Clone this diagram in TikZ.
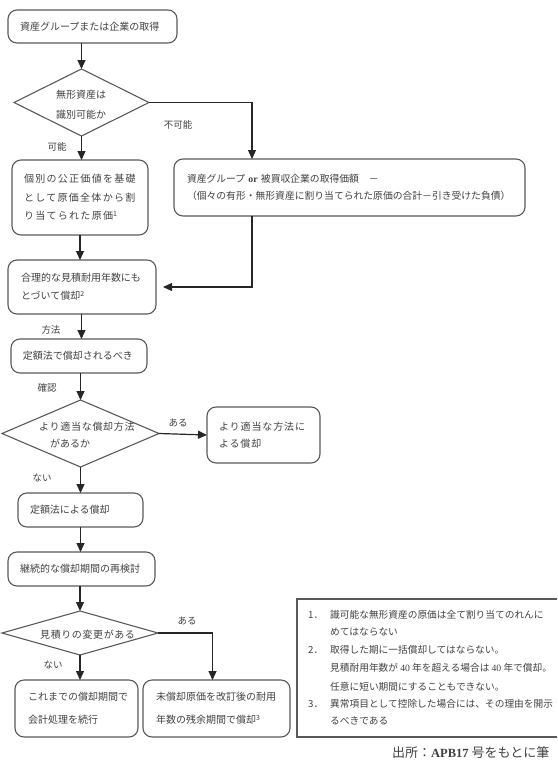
\documentclass[tikz,border=0pt]{standalone}
\usepackage{fontspec}
\setmainfont{Noto Sans CJK JP}
\newfontfamily\lat{Liberation Serif}
\usetikzlibrary{shapes.geometric,arrows.meta,calc}
\begin{document}
\begin{tikzpicture}[x=1pt,y=-1pt,
  box/.style={draw=black!65, line width=1.1pt, rounded corners=9pt, align=left,
    font=\fontsize{10}{18}\selectfont, text=black!75, inner ysep=0pt, outer sep=0pt},
  dia/.style={draw=black!65, line width=1.1pt, diamond, inner sep=0pt, outer sep=0pt},
  txt/.style={font=\fontsize{10}{18}\selectfont, text=black!75, inner sep=0pt, align=left, anchor=west},
  ntxt/.style={font=\fontsize{9.7}{12}\selectfont, text=black!75, inner sep=0pt, anchor=west},
  lbl/.style={font=\fontsize{9.5}{12}\selectfont, text=black!75, inner sep=0pt},
  arr/.style={draw=black!85, line width=1.2pt, -{Triangle[length=9pt,width=8pt]}},
]
\useasboundingbox (0,0) rectangle (557,763);
\clip (0,0) rectangle (557,763);

% boxes
\node[box, minimum width=169pt, minimum height=33pt, inner xsep=12pt, text width=145pt] (B1) at (92.5,26.5) {資産グループまたは企業の取得};
\node[dia, minimum width=135pt, minimum height=67pt] (D1) at (81.5,102.5) {};
\node[txt, font=\fontsize{10}{20}\selectfont] (D1t) at (56,105) {無形資産は\\識別可能か};

\node[box, minimum width=136pt, minimum height=75pt, inner xsep=12pt, text width=112pt,
  font=\fontsize{10}{18.5}\selectfont\addfontfeature{LetterSpace=13}] (B2) at (80,197.5)
  {個別の公正価値を基礎\\として原価全体から割\\り当てられた原価\textsuperscript{1}};
\node[box, minimum width=351pt, minimum height=57pt, inner xsep=13pt, text width=325pt,
  font=\fontsize{9.8}{17}\selectfont] (B3) at (349.5,187.5)
  {資産グループ {\lat\bfseries or} 被買収企業の取得価額　－\\（個々の有形・無形資産に割り当てられた原価の合計－引き受けた負債）};

\node[box, minimum width=148pt, minimum height=54pt, inner xsep=13pt, text width=122pt] (B4) at (82,287)
  {合理的な見積耐用年数にも\\とづいて償却\textsuperscript{2}};
\node[box, minimum width=136pt, minimum height=34pt, inner xsep=12pt, text width=112pt] (B5) at (79,356)
  {定額法で償却されるべき};

\node[dia, minimum width=157pt, minimum height=67pt] (D2) at (80.5,433.5) {};
\node[txt, font=\fontsize{10}{18}\selectfont\addfontfeature{LetterSpace=7}] (D2a) at (39,427) {より適当な償却方法};
\node[txt] (D2b) at (50,444) {があるか};

\node[box, minimum width=113pt, minimum height=56pt, inner xsep=12pt, text width=89pt,
  font=\fontsize{10}{17}\selectfont\addfontfeature{LetterSpace=9}] (B6) at (263.5,435)
  {より適当な方法に\\よる償却};

\node[box, minimum width=125pt, minimum height=34pt, inner xsep=12pt, text width=101pt] (B7) at (80.5,510)
  {定額法による償却};
\node[box, minimum width=147pt, minimum height=34pt, inner xsep=12pt, text width=123pt] (B8) at (81.5,569)
  {継続的な償却期間の再検討};

\node[dia, minimum width=156pt, minimum height=44pt] (D3) at (80,633) {};
\node[txt, font=\fontsize{10}{18}\selectfont\addfontfeature{LetterSpace=6}] (D3t) at (40,635) {見積りの変更がある};

\node[box, minimum width=123pt, minimum height=57pt, inner xsep=13pt, text width=97pt,
  font=\fontsize{10}{23}\selectfont] (B9) at (76.5,708.5)
  {これまでの償却期間で\\会計処理を続行};
\node[box, minimum width=147pt, minimum height=57pt, inner xsep=13pt, text width=121pt,
  font=\fontsize{10}{23}\selectfont] (B10) at (216.5,708.5)
  {未償却原価を改訂後の耐用\\年数の残余期間で償却\textsuperscript{3}};

% note box
\node[draw=black!65, line width=1.1pt, minimum width=283pt, minimum height=138pt, inner sep=0pt] (note) at (438.5,668) {};
\node[ntxt] (n1n) at (308,615) {1．};
\node[ntxt] (n1a) at (330,615) {識可能な無形資産の原価は全て割り当てのれんに};
\node[ntxt] (n1b) at (330,632) {めてはならない};
\node[ntxt] (n2n) at (308,650) {2．};
\node[ntxt] (n2a) at (330,650) {取得した期に一括償却してはならない。};
\node[ntxt] (n2b) at (330,668) {見積耐用年数が {\lat 40} 年を超える場合は {\lat 40} 年で償却。};
\node[ntxt] (n2c) at (330,687) {任意に短い期間にすることもできない。};
\node[ntxt] (n3n) at (308,704) {3．};
\node[ntxt] (n3a) at (330,704) {異常項目として控除した場合には、その理由を開示};
\node[ntxt] (n3b) at (330,721) {るべきである};

\node[font=\fontsize{13}{15}\selectfont, text=black!75, inner sep=0pt, anchor=west] (cap) at (392,753)
  {出所：{\lat\bfseries\fontsize{12.5}{15}\selectfont APB17} 号をもとに筆};

% labels
\node[lbl] (l1) at (178,125) {不可能};
\node[lbl] (l2) at (57,147) {可能};
\node[lbl] (l3) at (51,330) {方法};
\node[lbl] (l4) at (47,388) {確認};
\node[lbl] (l5) at (178,423) {ある};
\node[lbl] (l6) at (42,478) {ない};
\node[lbl] (l7) at (187,621) {ある};
\node[lbl] (l8) at (53,665) {ない};

% connectors
\coordinate (jx) at (252,102.5);
\draw[arr] (B1.south -| D1.north) -- (D1.north);
\draw[arr] (D1.south) -- (D1.south |- B2.north);
\draw[arr] (D1.east) -- (jx) -- (jx |- B3.north);
\draw[arr] (B2.south) -- (B2.south |- B4.north);
\draw[arr, shorten >=7pt] (jx |- B3.south) |- (B4.east);
\draw[arr] (B4.south -| D1.south) -- (D1.south |- B5.north);
\draw[arr] (B5.south -| D2.north) -- (D2.north);
\draw[arr] (D2.east) -- (B6.west);
\draw[arr] (D2.south) -- (D2.south |- B7.north);
\draw[arr] (B7.south -| D2.south) -- (D2.south |- B8.north);
\draw[arr] (B8.south -| D3.north) -- (D3.north);
\draw[arr] (D3.south) -- (D3.south |- B9.north);
\draw[arr] (D3.east) -| ([xshift=-4pt]B10.north);
\end{tikzpicture}
\end{document}
